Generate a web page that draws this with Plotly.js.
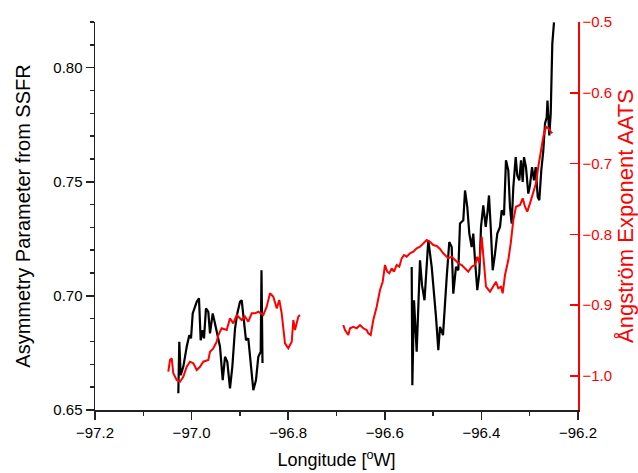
<!DOCTYPE html>
<html>
<head>
<meta charset="utf-8">
<script src="https://cdn.plot.ly/plotly-3.0.1.min.js"></script>
<style>html,body{margin:0;padding:0;background:#fff;}#chart{width:638px;height:473px;}</style>
</head>
<body>
<div id="chart"></div>
<script>
// SSFR asymmetry parameter (left axis), two flight segments
const lonSSFR1 = [-97.0275,-97.0255,-97.0226,-97.0172,-97.0101,-97.0048,-97.0012,-96.9977,-96.9930,-96.9894,-96.9847,-96.9812,-96.9770,-96.9743,-96.9702,-96.9654,-96.9619,-96.9563,-96.9516,-96.9468,-96.9412,-96.9356,-96.9308,-96.9261,-96.9205,-96.9157,-96.9101,-96.9054,-96.8998,-96.8963,-96.8930,-96.8874,-96.8826,-96.8776,-96.8722,-96.8667,-96.8619,-96.8569,-96.8553,-96.8532];
const gSSFR1 = [0.6573,0.6799,0.6653,0.6689,0.6777,0.6828,0.6814,0.6923,0.6952,0.6974,0.6989,0.6806,0.6850,0.6814,0.6945,0.6930,0.6836,0.6923,0.6879,0.6836,0.6777,0.6631,0.6733,0.6711,0.6595,0.6689,0.6857,0.6923,0.6974,0.6981,0.6908,0.6806,0.6814,0.6719,0.6587,0.6631,0.6733,0.6755,0.7112,0.6706];
const lonSSFR2 = [-96.5443,-96.5430,-96.5395,-96.5340,-96.5271,-96.5230,-96.5178,-96.5099,-96.5029,-96.4981,-96.4940,-96.4892,-96.4857,-96.4795,-96.4754,-96.4718,-96.4665,-96.4615,-96.4582,-96.4526,-96.4478,-96.4443,-96.4375,-96.4339,-96.4292,-96.4250,-96.4201,-96.4168,-96.4132,-96.4085,-96.4043,-96.4008,-96.3961,-96.3911,-96.3870,-96.3843,-96.3807,-96.3766,-96.3718,-96.3671,-96.3615,-96.3580,-96.3532,-96.3491,-96.3443,-96.3408,-96.3373,-96.3339,-96.3290,-96.3257,-96.3215,-96.3180,-96.3145,-96.3118,-96.3077,-96.3029,-96.2994,-96.2952,-96.2911,-96.2876,-96.2834,-96.2801,-96.2760,-96.2718,-96.2683,-96.2648,-96.2632,-96.2594,-96.2565,-96.2545,-96.2532,-96.2497];
const gSSFR2 = [0.7127,0.6609,0.6981,0.6755,0.7156,0.7047,0.6981,0.7244,0.7127,0.7025,0.6908,0.6762,0.6864,0.6828,0.6981,0.7083,0.7236,0.7214,0.7010,0.7127,0.7112,0.7317,0.7331,0.7462,0.7389,0.7273,0.7214,0.7273,0.7156,0.7025,0.7098,0.7302,0.7397,0.7302,0.7375,0.7440,0.7302,0.7112,0.7185,0.7273,0.7302,0.7375,0.7353,0.7594,0.7550,0.7389,0.7317,0.7477,0.7608,0.7528,0.7506,0.7594,0.7499,0.7608,0.7564,0.7448,0.7484,0.7564,0.7506,0.7564,0.7433,0.7419,0.7550,0.7637,0.7754,0.7783,0.7856,0.7703,0.7798,0.7958,0.8104,0.8198];

// AATS Angstrom exponent (right axis), two segments
const lonAATS1 = [-97.0482,-97.0447,-97.0412,-97.0379,-97.0308,-97.0240,-97.0172,-97.0101,-97.0033,-96.9965,-96.9894,-96.9826,-96.9758,-96.9654,-96.9619,-96.9551,-96.9480,-96.9447,-96.9377,-96.9273,-96.9205,-96.9137,-96.9066,-96.8963,-96.8894,-96.8826,-96.8756,-96.8687,-96.8619,-96.8515,-96.8445,-96.8377,-96.8308,-96.8238,-96.8184,-96.8135,-96.8066,-96.7998,-96.7927,-96.7894,-96.7859,-96.7791,-96.7756];
const aAATS1 = [-0.9939,-0.9774,-0.9750,-0.9962,-1.0056,-1.0081,-1.0010,-0.9869,-0.9798,-0.9821,-0.9915,-0.9869,-0.9798,-0.9774,-0.9657,-0.9609,-0.9515,-0.9421,-0.9326,-0.9350,-0.9185,-0.9256,-0.9138,-0.9209,-0.9162,-0.9233,-0.9114,-0.9114,-0.9092,-0.9138,-0.9021,-0.8832,-0.8880,-0.9044,-0.8927,-0.9114,-0.9538,-0.9609,-0.9516,-0.9209,-0.9350,-0.9162,-0.9138];
const lonAATS2 = [-96.6859,-96.6824,-96.6756,-96.6720,-96.6652,-96.6582,-96.6513,-96.6445,-96.6375,-96.6342,-96.6292,-96.6238,-96.6168,-96.6099,-96.6043,-96.5996,-96.5948,-96.5907,-96.5857,-96.5810,-96.5754,-96.5700,-96.5650,-96.5602,-96.5547,-96.5478,-96.5410,-96.5340,-96.5271,-96.5203,-96.5132,-96.5064,-96.4996,-96.4925,-96.4857,-96.4795,-96.4733,-96.4685,-96.4615,-96.4546,-96.4478,-96.4408,-96.4339,-96.4271,-96.4201,-96.4132,-96.4085,-96.4043,-96.3994,-96.3946,-96.3905,-96.3822,-96.3753,-96.3698,-96.3650,-96.3594,-96.3559,-96.3511,-96.3443,-96.3393,-96.3339,-96.3284,-96.3201,-96.3145,-96.3097,-96.3050,-96.2994,-96.2925,-96.2870,-96.2822,-96.2772,-96.2718,-96.2662,-96.2615,-96.2565,-96.2532];
const aAATS2 = [-0.9280,-0.9350,-0.9421,-0.9326,-0.9304,-0.9326,-0.9280,-0.9326,-0.9350,-0.9397,-0.9421,-0.9209,-0.9021,-0.8785,-0.8668,-0.8432,-0.8527,-0.8549,-0.8479,-0.8527,-0.8432,-0.8456,-0.8338,-0.8291,-0.8315,-0.8267,-0.8244,-0.8196,-0.8174,-0.8126,-0.8079,-0.8103,-0.8150,-0.8164,-0.8206,-0.8263,-0.8305,-0.8338,-0.8315,-0.8362,-0.8408,-0.8432,-0.8479,-0.8527,-0.8456,-0.8432,-0.8315,-0.8408,-0.8032,-0.8362,-0.8739,-0.8809,-0.8739,-0.8668,-0.8761,-0.8739,-0.8832,-0.8573,-0.8362,-0.8126,-0.7797,-0.7609,-0.7585,-0.7490,-0.7609,-0.7679,-0.7561,-0.7419,-0.7278,-0.7044,-0.6808,-0.6620,-0.6479,-0.6501,-0.6549,-0.6572];

const black = {color:'#000000', width:2.2};
const red = {color:'#ff0000', width:2};

const traces = [
  {x: lonAATS1, y: aAATS1, yaxis:'y2', mode:'lines', line: red, showlegend:false, hoverinfo:'skip'},
  {x: lonAATS2, y: aAATS2, yaxis:'y2', mode:'lines', line: red, showlegend:false, hoverinfo:'skip'},
  {x: lonSSFR1, y: gSSFR1, mode:'lines', line: black, showlegend:false, hoverinfo:'skip'},
  {x: lonSSFR2, y: gSSFR2, mode:'lines', line: black, showlegend:false, hoverinfo:'skip'}
];

const fam = '"Liberation Sans", Arial, sans-serif';

const layout = {
  width:638, height:473,
  margin:{l:95, r:60, t:22, b:63, pad:0},
  paper_bgcolor:'#fff', plot_bgcolor:'#fff',
  font: {family:fam, size:15, color:'#000'},
  xaxis:{
    range:[-97.2,-96.2], dtick:0.2, tick0:-97.2, tickformat:'.1f',
    showgrid:false, zeroline:false, showline:true, linecolor:'#222', linewidth:1.5,
    ticks:'outside', ticklen:8, tickwidth:1.5, tickcolor:'#222',
    minor:{dtick:0.1, ticks:'outside', ticklen:4, tickwidth:1.5, tickcolor:'#222', showgrid:false},
    tickfont:{family:fam, size:15, color:'#000'},
    title:{text:'Longitude [<sup>o</sup>W]', font:{family:fam, size:18, color:'#000'}, standoff:14}
  },
  yaxis:{
    range:[0.65,0.82], dtick:0.05, tick0:0.65, tickformat:'.2f',
    showgrid:false, zeroline:false, showline:true, linecolor:'#222', linewidth:1.5,
    ticks:'outside', ticklen:8, tickwidth:1.5, tickcolor:'#222',
    minor:{dtick:0.01, ticks:'outside', ticklen:4, tickwidth:1.5, tickcolor:'#222', showgrid:false},
    tickfont:{family:fam, size:15, color:'#000'},
    title:{text:'Asymmetry Parameter from SSFR', font:{family:fam, size:20, color:'#000'}, standoff:17}
  },
  yaxis2:{
    overlaying:'y', side:'right', anchor:'x',
    range:[-1.048,-0.5], dtick:0.1, tick0:-1.0, tickformat:'.1f',
    showgrid:false, zeroline:false, showline:true, linecolor:'#ff0000', linewidth:1.5,
    ticks:'inside', ticklen:8, tickwidth:1.5, tickcolor:'#ff0000',
    tickfont:{family:fam, size:15, color:'#ff0000'},
    title:{text:'Ångström Exponent AATS', font:{family:fam, size:22, color:'#ff0000'}, standoff:10}
  }
};

Plotly.newPlot('chart', traces, layout, {staticPlot:true, displayModeBar:false});
</script>
</body>
</html>
